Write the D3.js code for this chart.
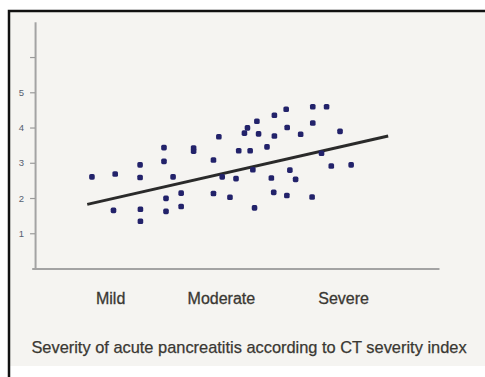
<!DOCTYPE html>
<html>
<head>
<meta charset="utf-8">
<script src="https://cdn.jsdelivr.net/npm/d3@7"></script>
<style>
  html, body { margin: 0; padding: 0; background: #ffffff; }
  svg { display: block; }
  text { font-family: "Liberation Sans", Arial, sans-serif; }
</style>
</head>
<body>
<svg id="chart" width="485" height="377"></svg>
<script>
// CT severity index (x) against clinical score (y), one entry per patient
const ctIndex = [1.69, 2.38, 2.33, 3.12, 3.12, 3.13, 3.13, 3.83, 3.83, 4.10,
                 3.89, 3.89, 4.34, 4.34, 4.71, 4.71, 5.46, 5.30, 5.56, 5.30,
                 5.97, 5.79, 6.05, 6.39, 6.22, 6.31, 6.59, 6.64, 6.47, 6.52,
                 6.89, 7.11, 7.11, 7.02, 7.09, 7.46, 7.49, 7.57, 7.74, 7.48,
                 7.89, 8.25, 8.66, 8.25, 9.06, 8.51, 8.80, 9.39, 8.23];
const score   = [2.60, 2.68, 1.65, 2.94, 2.58, 1.68, 1.34, 3.43, 3.04, 2.60,
                 1.99, 1.62, 2.14, 1.76, 3.42, 3.33, 3.74, 3.08, 2.60, 2.13,
                 2.55, 2.02, 3.34, 3.34, 3.84, 3.99, 4.18, 3.82, 2.80, 1.72,
                 3.45, 4.35, 3.76, 2.57, 2.16, 4.52, 4.00, 2.79, 2.53, 2.07,
                 3.81, 4.59, 4.59, 4.13, 3.89, 3.27, 2.91, 2.94, 2.03];

// Fitted trend line (two end points)
const trendX = [1.55, 10.49];
const trendY = [1.82, 3.76];

// Severity groups and where they sit along the index
const categories = ["Mild", "Moderate", "Severe"];
const categoryPos = [2.23, 5.52, 9.15];

// Y axis ticks
const yTickValues = [1, 2, 3, 4, 5, 6];
const yTickLabels = ["1", "2", "3", "4", "5", ""];

const titleText = "Severity of acute pancreatitis according to CT severity index";

const svg = d3.select("#chart");

// panel with frame
svg.append("rect").attr("x", 9).attr("y", 11).attr("width", 476).attr("height", 355)
  .attr("fill", "#f5f4f1");
svg.append("path").attr("d", "M9,377 V11 H485")
  .attr("fill", "none").attr("stroke", "#111").attr("stroke-width", 2.5);

const x = d3.scaleLinear().domain([-0.1, 12]).range([31.7, 439]);
const y = d3.scaleLinear().domain([0, 7]).range([268.5, 21.8]);

const defs = svg.append("defs");
defs.append("filter").attr("id", "soft")
  .attr("x", "-50%").attr("y", "-50%").attr("width", "200%").attr("height", "200%")
  .append("feGaussianBlur").attr("stdDeviation", 0.6);

// y axis
const yAxis = svg.append("g")
  .attr("transform", `translate(${x(0)},0)`)
  .call(d3.axisLeft(y)
    .tickValues(yTickValues)
    .tickFormat((d, i) => yTickLabels[i])
    .tickSize(5).tickSizeOuter(0).tickPadding(6));
yAxis.select(".domain").attr("stroke", "#a3a3a3").attr("stroke-width", 2);
yAxis.selectAll(".tick line").attr("stroke", "#9a9a9a").attr("stroke-width", 1.2);
yAxis.selectAll(".tick text").attr("font-size", 9.5).attr("fill", "#556070")
  .attr("font-family", "Liberation Sans, Arial, sans-serif");

// x axis with category labels
const xAxis = svg.append("g")
  .attr("transform", `translate(0,${y(0)})`)
  .call(d3.axisBottom(x)
    .tickValues(categoryPos)
    .tickFormat((d, i) => categories[i])
    .tickSize(0).tickSizeOuter(0).tickPadding(24));
xAxis.select(".domain").attr("stroke", "#a3a3a3").attr("stroke-width", 2);
xAxis.selectAll(".tick text").attr("font-size", 16).attr("fill", "#3a3833")
  .attr("stroke", "#3a3833").attr("stroke-width", 0.3)
  .attr("font-family", "Liberation Sans, Arial, sans-serif");

// trend line
const line = d3.line().x(d => x(d[0])).y(d => y(d[1]));
svg.append("path")
  .datum(d3.zip(trendX, trendY))
  .attr("d", line)
  .attr("fill", "none").attr("stroke", "#2b2b2b").attr("stroke-width", 3)
  .attr("filter", "url(#soft)");

// patients
svg.append("g").attr("filter", "url(#soft)")
  .selectAll("rect")
  .data(d3.zip(ctIndex, score))
  .join("rect")
  .attr("x", d => x(d[0]) - 2.8)
  .attr("y", d => y(d[1]) - 2.8)
  .attr("width", 5.6).attr("height", 5.6)
  .attr("rx", 1.6)
  .attr("fill", "#23226b");

// axis title
svg.append("text")
  .attr("x", 249).attr("y", 353)
  .attr("text-anchor", "middle")
  .attr("font-size", 16.4).attr("fill", "#3a3833")
  .attr("stroke", "#3a3833").attr("stroke-width", 0.25)
  .text(titleText);
</script>
</body>
</html>
